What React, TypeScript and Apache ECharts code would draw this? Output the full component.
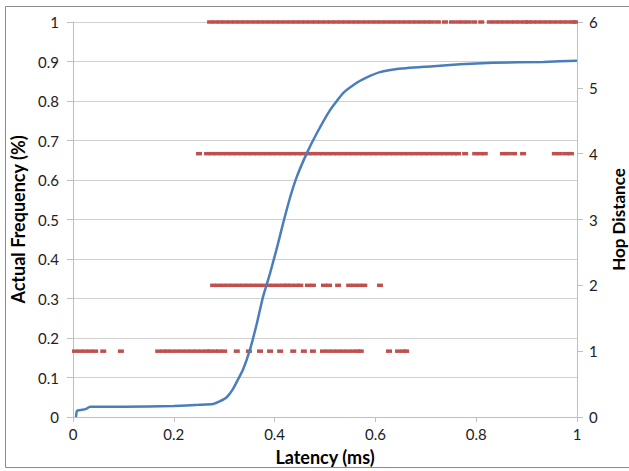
import React, { useEffect, useRef } from "react";
import * as echarts from "echarts";

const xTicks = [0, 0.2, 0.4, 0.6, 0.8, 1];
const cdfLatency = [0.006, 0.008, 0.017, 0.025, 0.034, 0.1, 0.2, 0.25, 0.278, 0.292, 0.305, 0.317, 0.327, 0.337, 0.351, 0.365, 0.377, 0.391, 0.405, 0.417, 0.431, 0.444, 0.464, 0.484, 0.51, 0.536, 0.563, 0.58, 0.609, 0.643, 0.702, 0.768, 0.833, 0.933, 1.0];
const cdfFrequency = [0, 0.016, 0.018, 0.02, 0.026, 0.026, 0.028, 0.031, 0.033, 0.04, 0.05, 0.07, 0.094, 0.119, 0.17, 0.238, 0.304, 0.364, 0.43, 0.491, 0.557, 0.608, 0.668, 0.719, 0.777, 0.82, 0.846, 0.858, 0.873, 0.881, 0.887, 0.893, 0.897, 0.899, 0.902];

const hop1Latency = [0.004, 0.014, 0.024, 0.034, 0.044, 0.06, 0.095, 0.169, 0.179, 0.187, 0.196, 0.206, 0.216, 0.226, 0.236, 0.246, 0.256, 0.266, 0.272, 0.282, 0.29, 0.3, 0.325, 0.349, 0.371, 0.391, 0.411, 0.437, 0.458, 0.476, 0.496, 0.506, 0.516, 0.526, 0.536, 0.546, 0.556, 0.565, 0.571, 0.627, 0.645, 0.655, 0.661];
const hop2Latency = [0.278, 0.288, 0.298, 0.308, 0.318, 0.328, 0.338, 0.348, 0.358, 0.368, 0.378, 0.388, 0.398, 0.408, 0.418, 0.425, 0.433, 0.443, 0.451, 0.466, 0.476, 0.498, 0.508, 0.526, 0.548, 0.558, 0.568, 0.578, 0.609];
const hop4Latency = [0.25, 0.266, 0.276, 0.286, 0.296, 0.306, 0.316, 0.326, 0.336, 0.346, 0.356, 0.366, 0.376, 0.386, 0.396, 0.406, 0.416, 0.426, 0.436, 0.446, 0.456, 0.466, 0.476, 0.486, 0.496, 0.506, 0.516, 0.526, 0.536, 0.546, 0.556, 0.566, 0.576, 0.586, 0.596, 0.606, 0.616, 0.626, 0.636, 0.646, 0.656, 0.666, 0.676, 0.686, 0.696, 0.706, 0.716, 0.726, 0.736, 0.746, 0.756, 0.764, 0.778, 0.798, 0.808, 0.817, 0.853, 0.863, 0.875, 0.893, 0.956, 0.966, 0.978, 0.988];
const hop6Latency = [0.272, 0.282, 0.292, 0.302, 0.312, 0.322, 0.332, 0.342, 0.352, 0.362, 0.372, 0.382, 0.392, 0.402, 0.412, 0.422, 0.432, 0.442, 0.452, 0.462, 0.472, 0.482, 0.492, 0.502, 0.512, 0.522, 0.532, 0.542, 0.552, 0.562, 0.572, 0.582, 0.592, 0.602, 0.612, 0.622, 0.632, 0.642, 0.652, 0.662, 0.672, 0.682, 0.692, 0.702, 0.712, 0.724, 0.738, 0.752, 0.764, 0.774, 0.784, 0.796, 0.81, 0.827, 0.837, 0.847, 0.857, 0.867, 0.877, 0.887, 0.897, 0.903, 0.912, 0.922, 0.932, 0.942, 0.952, 0.962, 0.972, 0.982, 0.992, 0.996];

const hopLevels: [number, number[]][] = [
  [1, hop1Latency],
  [2, hop2Latency],
  [4, hop4Latency],
  [6, hop6Latency],
];

const FONT = "Lato";
const AXIS_GRAY = "#bfbfbf";

export default function App() {
  const ref = useRef<HTMLDivElement>(null);
  useEffect(() => {
    if (!ref.current) return;
    const chart = echarts.init(ref.current, null, { renderer: "svg" });
    const scatterData: number[][] = [];
    hopLevels.forEach(([hop, xs]) => xs.forEach((x) => scatterData.push([x, hop])));
    chart.setOption({
      animation: false,
      textStyle: { fontFamily: FONT },
      grid: { left: 73, right: 52, top: 22, bottom: 54, containLabel: false, outerBoundsMode: "none" },
      graphic: [
        {
          type: "rect",
          shape: { x: 5.5, y: 6.5, width: 640, height: 461 },
          style: { fill: "none", stroke: "#8c8c8c", lineWidth: 1 },
          silent: true,
        },
      ],
      xAxis: {
        type: "value",
        min: 0,
        max: 1,
        interval: 0.2,
        name: "Latency (ms)",
        nameLocation: "middle",
        nameGap: 31,
        nameTextStyle: { fontFamily: FONT, fontWeight: "bold", fontSize: 18, color: "#000" },
        axisLine: { show: true, lineStyle: { color: AXIS_GRAY } },
        axisTick: { show: true, length: 5, lineStyle: { color: AXIS_GRAY } },
        axisLabel: {
          fontFamily: FONT, fontSize: 15, color: "#222", margin: 9,
          formatter: (v: number) => String(xTicks.find((t) => Math.abs(t - v) < 1e-9) ?? v),
        },
        splitLine: { show: false },
      },
      yAxis: [
        {
          type: "value",
          min: 0,
          max: 1,
          interval: 0.1,
          name: "Actual Frequency (%)",
          nameLocation: "middle",
          nameGap: 41,
          nameTextStyle: { fontFamily: FONT, fontWeight: "bold", fontSize: 18, color: "#000" },
          axisLine: { show: true, lineStyle: { color: AXIS_GRAY } },
          axisTick: { show: true, length: 6, lineStyle: { color: AXIS_GRAY } },
          axisLabel: {
            fontFamily: FONT, fontSize: 15, color: "#222", margin: 14,
            formatter: (v: number) => String(Math.round(v * 10) / 10),
          },
          splitLine: { show: true, lineStyle: { color: "#d0d0d0" } },
        },
        {
          type: "value",
          min: 0,
          max: 6,
          interval: 1,
          position: "right",
          name: "Hop Distance",
          nameLocation: "middle",
          nameGap: 33,
          nameRotate: 90,
          nameTextStyle: { fontFamily: FONT, fontWeight: "bold", fontSize: 17, color: "#000" },
          axisLine: { show: true, lineStyle: { color: AXIS_GRAY } },
          axisTick: { show: true, length: 6, lineStyle: { color: AXIS_GRAY } },
          axisLabel: { fontFamily: FONT, fontSize: 15, color: "#222", margin: 12 },
          splitLine: { show: false },
        },
      ],
      series: [
        {
          type: "scatter",
          yAxisIndex: 1,
          symbol: "rect",
          symbolSize: [6, 3.5],
          itemStyle: { color: "#c0504d", opacity: 1 },
          data: scatterData,
          z: 2,
        },
        {
          type: "line",
          yAxisIndex: 0,
          showSymbol: false,
          symbol: "none",
          smooth: 0.15,
          lineStyle: { color: "#4a7ebb", width: 2.5 },
          data: cdfLatency.map((x, i) => [x, cdfFrequency[i]]),
          z: 3,
        },
      ],
    });
    return () => chart.dispose();
  }, []);
  return <div ref={ref} style={{ width: 629, height: 471, position: "absolute", left: 0, top: 0 }} />;
}
